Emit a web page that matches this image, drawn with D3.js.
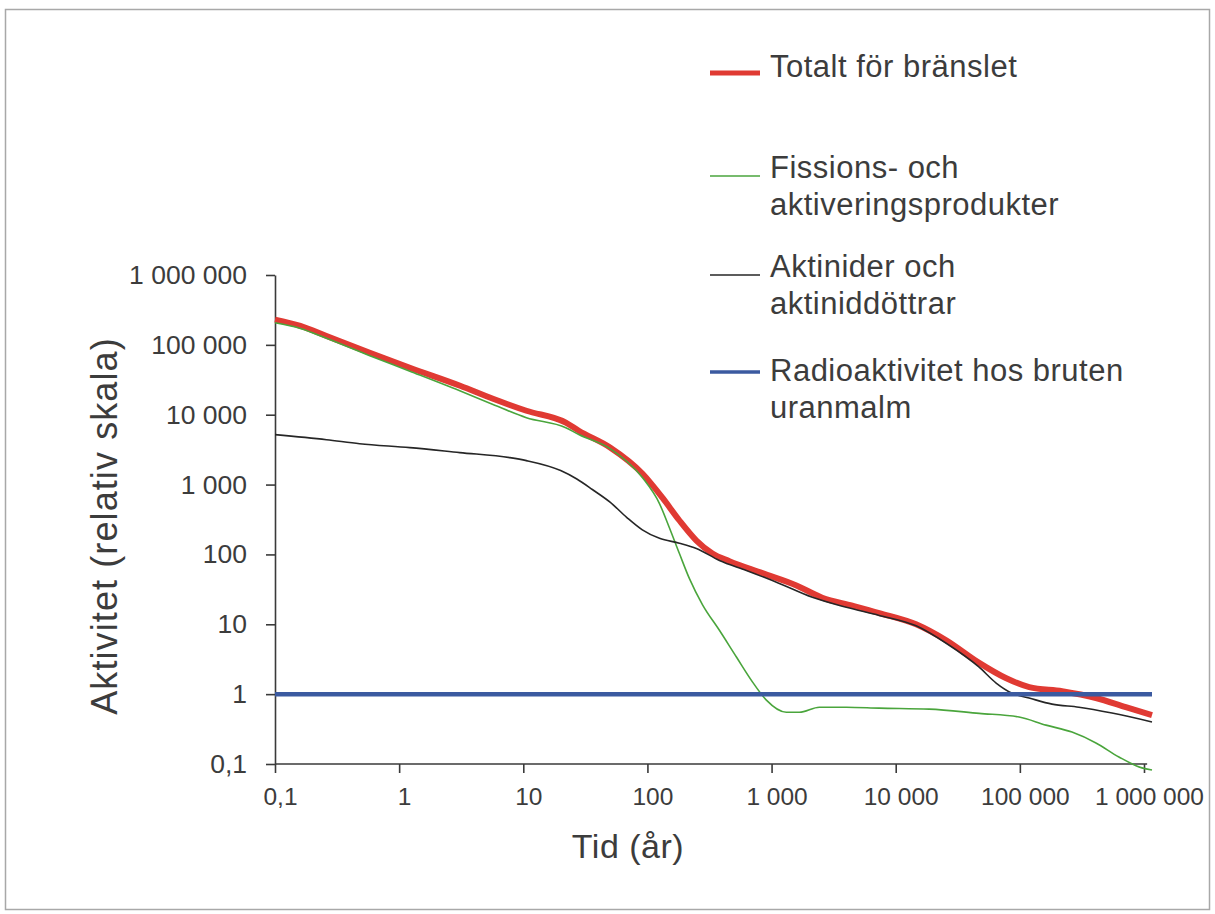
<!DOCTYPE html>
<html>
<head>
<meta charset="utf-8">
<script src="https://cdn.jsdelivr.net/npm/d3@7"></script>
<style>
  html, body { margin: 0; padding: 0; background: #ffffff; }
  svg { display: block; font-family: "Liberation Sans", Arial, sans-serif; }
</style>
</head>
<body>
<svg id="chart" width="1215" height="914"></svg>
<script>
// Tid (år) och aktivitet (relativ skala), avläst i log-log-diagrammet
const totalt = [
  [0.1, 230000], [0.16, 187000], [0.26, 134000], [0.58, 77000], [1.22, 47000],
  [3.1, 26000], [5.7, 16900], [10.6, 11400], [22, 7700], [28, 5900], [50, 3400],
  [91, 1440], [132, 650], [181, 306], [248, 158], [334, 103], [458, 80],
  [843, 54], [1585, 36], [2560, 24], [4470, 18.5], [7360, 14.5], [14600, 10],
  [25500, 5.9], [47000, 2.8], [77000, 1.7], [119000, 1.26], [219000, 1.1],
  [410000, 0.88], [714000, 0.65], [1160000, 0.5]
];
const fissionsprodukter = [
  [0.1, 207000], [0.16, 172000], [0.26, 124000], [0.58, 70000], [1.22, 42000],
  [3.08, 22000], [5.7, 14000], [10.6, 9060], [22, 6520], [28, 5200], [50, 3270],
  [91, 1260], [125, 535], [150, 243], [181, 103], [218, 45], [278, 19],
  [380, 8.2], [521, 3.4], [701, 1.5], [908, 0.82], [1315, 0.55], [1675, 0.55],
  [2425, 0.65], [4000, 0.65], [7360, 0.63], [18600, 0.61], [47000, 0.53],
  [98600, 0.47], [162500, 0.36], [263000, 0.286], [410000, 0.2], [628000, 0.126],
  [962000, 0.088], [1160000, 0.082]
];
const aktinider = [
  [0.1, 5180], [0.26, 4390], [0.48, 3850], [1.22, 3380], [3.08, 2870], [7.8, 2430],
  [10.6, 2200], [20, 1585], [27, 1200], [36, 850], [50, 560], [68, 340],
  [91, 225], [125, 170], [181, 145], [248, 122], [380, 82], [627, 59],
  [1155, 38.5], [2130, 24.3], [4000, 17.5], [7360, 13.4], [14600, 9.5],
  [25500, 5.35], [47000, 2.43], [64400, 1.44], [86500, 1.03], [118600, 0.88],
  [181500, 0.72], [299000, 0.65], [552000, 0.536], [1160000, 0.4]
];
const uranmalm = [[0.1, 1], [1160000, 1]];

const xTickValues = [0.1, 1, 10, 100, 1000, 10000, 100000, 1000000];
const xTickLabels = ["0,1", "1", "10", "100", "1 000", "10 000", "100 000", "1 000 000"];
const yTickValues = [0.1, 1, 10, 100, 1000, 10000, 100000, 1000000];
const yTickLabels = ["0,1", "1", "10", "100", "1 000", "10 000", "100 000", "1 000 000"];

const seriesNames = [
  ["Totalt för bränslet"],
  ["Fissions- och", "aktiveringsprodukter"],
  ["Aktinider och", "aktiniddöttrar"],
  ["Radioaktivitet hos bruten", "uranmalm"]
];

const svg = d3.select("#chart");
const textColor = "#3c3c3c";

// ram runt diagrammet
svg.append("rect")
  .attr("x", 5.5).attr("y", 9.5)
  .attr("width", 1204).attr("height", 900)
  .attr("fill", "#ffffff")
  .attr("stroke", "#a8a8a8").attr("stroke-width", 1.5);

const x = d3.scaleLog().domain([0.1, 1e6]).range([275, 1144]);
const y = d3.scaleLog().domain([0.1, 1e6]).range([764, 275]);

// serier: totalt, fissionsprodukter, aktinider, uranmalm
const series = [
  { data: totalt, color: "#e03a33", width: 6 },
  { data: fissionsprodukter, color: "#4aa53c", width: 1.6 },
  { data: aktinider, color: "#262626", width: 1.6 },
  { data: uranmalm, color: "#3b5aa0", width: 4.5 }
];

const line = d3.line()
  .x(d => x(d[0]))
  .y(d => y(d[1]))
  .curve(d3.curveMonotoneX);

// axlar
const xAxis = d3.axisBottom(x)
  .tickValues(xTickValues)
  .tickFormat((d, i) => xTickLabels[i])
  .tickSize(9).tickSizeOuter(0).tickPadding(15);
const gx = svg.append("g").attr("transform", "translate(0,764)").call(xAxis);
gx.select(".domain").attr("d", `M${x(0.1)},0H${x(1.06e6)}`);

const yAxis = d3.axisLeft(y)
  .tickValues(yTickValues)
  .tickFormat((d, i) => yTickLabels[i])
  .tickSize(9).tickSizeOuter(0).tickPadding(19);
const gy = svg.append("g").attr("transform", "translate(275,0)").call(yAxis);

[gx, gy].forEach(g => {
  g.select(".domain").attr("stroke", "#3a3a3a").attr("stroke-width", 1.6);
  g.selectAll(".tick line").attr("stroke", "#3a3a3a").attr("stroke-width", 1.6);
  g.selectAll(".tick text")
    .attr("fill", textColor)
    .style("font-family", "'Liberation Sans', Arial, sans-serif");
});
gx.selectAll(".tick text").style("font-size", "24.5px").attr("dx", 5).attr("dy", "0.71em");
gy.selectAll(".tick text").style("font-size", "26.5px");

// linjer
series.forEach(s => {
  svg.append("path")
    .datum(s.data)
    .attr("fill", "none")
    .attr("stroke", s.color)
    .attr("stroke-width", s.width)
    .attr("stroke-linejoin", "round")
    .attr("d", line);
});

// axeltitlar
svg.append("text")
  .attr("x", 628).attr("y", 858)
  .attr("text-anchor", "middle")
  .attr("fill", textColor)
  .style("font-size", "34px")
  .style("letter-spacing", "0.5px")
  .text("Tid (år)");

svg.append("text")
  .attr("transform", "translate(117,526) rotate(-90)")
  .attr("text-anchor", "middle")
  .attr("fill", textColor)
  .style("font-size", "36px")
  .style("letter-spacing", "1.1px")
  .text("Aktivitet (relativ skala)");

// teckenförklaring
const legendRows = [77, 178, 277, 381];
const swatchY = [73, 176, 275, 372];
const legend = svg.append("g");
series.forEach((s, i) => {
  legend.append("line")
    .attr("x1", 710).attr("x2", 760)
    .attr("y1", swatchY[i]).attr("y2", swatchY[i])
    .attr("stroke", s.color)
    .attr("stroke-width", Math.max(s.width * 0.8, 1.6));
  const t = legend.append("text")
    .attr("x", 770).attr("y", legendRows[i])
    .attr("fill", textColor)
    .style("font-size", "31px")
    .style("letter-spacing", "0.5px");
  seriesNames[i].forEach((name, j) => {
    t.append("tspan")
      .attr("x", 770)
      .attr("dy", j === 0 ? 0 : 37)
      .text(name);
  });
});
</script>
</body>
</html>
